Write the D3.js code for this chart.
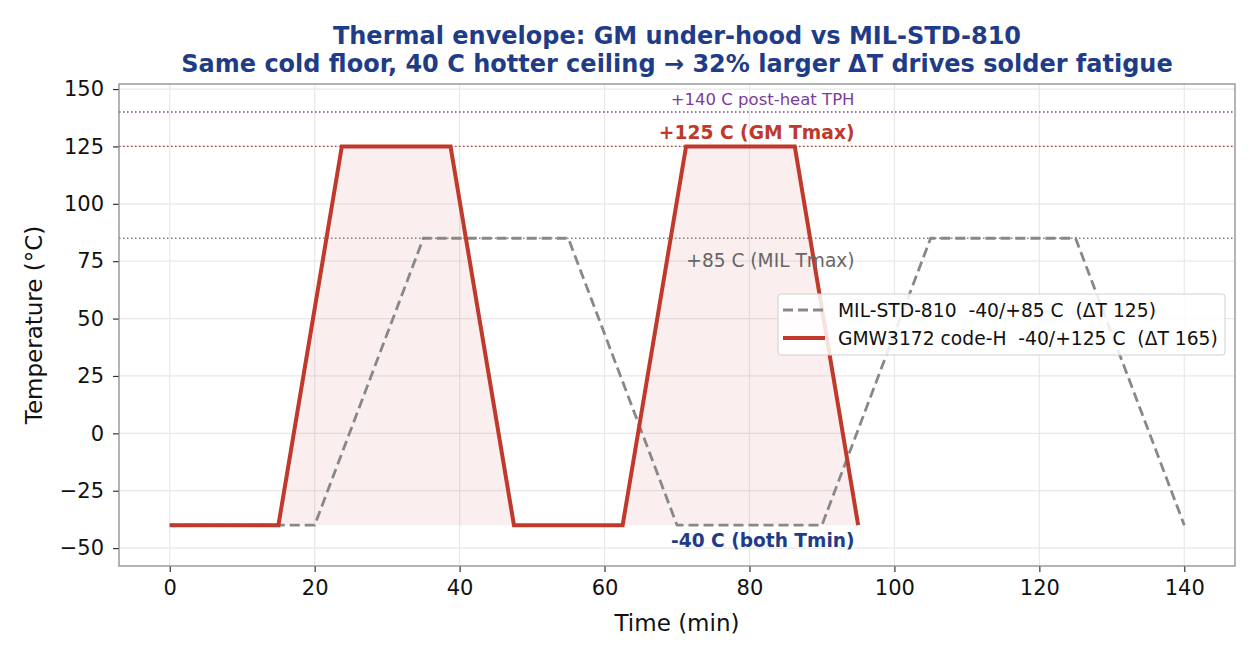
<!DOCTYPE html>
<html>
<head>
<meta charset="utf-8">
<script src="https://cdn.jsdelivr.net/npm/d3@7"></script>
<style>
  body { margin: 0; background: #fff; }
  text { font-family: "DejaVu Sans", sans-serif; white-space: pre; }
</style>
</head>
<body>
<div id="chart"></div>
<script>
// MIL-STD-810 profile (time in min, temperature in C)
var milTime = [0, 20, 35, 55, 70, 90, 105, 125, 140];
var milTemp = [-40, -40, 85, 85, -40, -40, 85, 85, -40];
// GMW3172 code-H profile
var gmTime = [0, 15, 23.75, 38.75, 47.5, 62.5, 71.25, 86.25, 95];
var gmTemp = [-40, -40, 125, 125, -40, -40, 125, 125, -40];

var xTicks = [0, 20, 40, 60, 80, 100, 120, 140];
var yTicks = [-50, -25, 0, 25, 50, 75, 100, 125, 150];

var refLines = [
    { y: 140, color: "#7d3c98", label: "+140 C post-heat TPH" },
    { y: 125, color: "#c0392b", label: "+125 C (GM Tmax)" },
    { y: 85, color: "#808080", label: "+85 C (MIL Tmax)" }
];

var legendLabels = ["MIL-STD-810  -40/+85 C  (\u0394T 125)", "GMW3172 code-H  -40/+125 C  (\u0394T 165)"];

var W = 1260, H = 660;
var margin = { top: 84, right: 25, bottom: 94, left: 119 };
var w = W - margin.left - margin.right,
    h = H - margin.top - margin.bottom;

var svg = d3.select("#chart").append("svg").attr("width", W).attr("height", H);

var x = d3.scaleLinear().domain([-7, 147]).range([margin.left, margin.left + w]);
var y = d3.scaleLinear().domain([-57.8, 152.2]).range([margin.top + h, margin.top]);

// grid
svg.append("g").selectAll("line").data(xTicks).enter().append("line")
    .attr("x1", d => x(d)).attr("x2", d => x(d))
    .attr("y1", margin.top).attr("y2", margin.top + h)
    .style("stroke", "#e8e8e8").style("stroke-width", 1.2);
svg.append("g").selectAll("line").data(yTicks).enter().append("line")
    .attr("x1", margin.left).attr("x2", margin.left + w)
    .attr("y1", d => y(d)).attr("y2", d => y(d))
    .style("stroke", "#e8e8e8").style("stroke-width", 1.2);

var milData = milTime.map((t, i) => [t, milTemp[i]]);
var gmData = gmTime.map((t, i) => [t, gmTemp[i]]);

// fill under GM curve
var area = d3.area().x(d => x(d[0])).y0(y(-40)).y1(d => y(d[1]));
svg.append("path").datum(gmData).attr("d", area)
    .style("fill", "#c0392b").style("fill-opacity", 0.08);

// reference lines
refLines.forEach(function(r) {
    svg.append("line")
        .attr("x1", margin.left).attr("x2", margin.left + w)
        .attr("y1", y(r.y)).attr("y2", y(r.y))
        .style("stroke", r.color).style("stroke-width", 1.3)
        .style("stroke-dasharray", "1.5,2.5");
});

var line = d3.line().x(d => x(d[0])).y(d => y(d[1]));

svg.append("path").datum(milData).attr("d", line)
    .style("fill", "none").style("stroke", "#888888").style("stroke-width", 2.8)
    .style("stroke-dasharray", "10,5");

svg.append("path").datum(gmData).attr("d", line)
    .style("fill", "none").style("stroke", "#c0392b").style("stroke-width", 4)
    .style("stroke-linejoin", "miter");

// annotations, right-aligned near t = 94.5
var annX = x(94.5);
svg.append("text").attr("x", annX).attr("y", y(140) - 7).attr("text-anchor", "end")
    .style("font-size", "16.5px").style("fill", "#7d3c98").text(refLines[0].label);
svg.append("text").attr("x", annX).attr("y", y(125) - 7).attr("text-anchor", "end")
    .style("font-size", "18.7px").style("font-weight", "bold").style("fill", "#c0392b").text(refLines[1].label);
svg.append("text").attr("x", annX).attr("y", y(85) + 29).attr("text-anchor", "end")
    .style("font-size", "18.6px").style("fill", "#666").text(refLines[2].label);
svg.append("text").attr("x", annX).attr("y", y(-40) + 22).attr("text-anchor", "end")
    .style("font-size", "18.6px").style("font-weight", "bold").style("fill", "#1f3c88").text("-40 C (both Tmin)");

// axes
var xAxis = d3.axisBottom(x).tickValues(xTicks).tickSize(6).tickPadding(8);
var yAxis = d3.axisLeft(y).tickValues(yTicks).tickSize(6).tickPadding(9)
    .tickFormat(d => d < 0 ? "\u2212" + Math.abs(d) : d);

var gx = svg.append("g").attr("transform", "translate(0," + (margin.top + h) + ")").call(xAxis);
var gy = svg.append("g").attr("transform", "translate(" + margin.left + ",0)").call(yAxis);
[gx, gy].forEach(function(g) {
    g.select(".domain").remove();
    g.selectAll(".tick line").style("stroke", "#333").style("stroke-width", 1.2);
    g.selectAll(".tick text").style("font-size", "21px").style("fill", "#111")
        .style("font-family", "DejaVu Sans");
});

// frame
svg.append("rect").attr("x", margin.left).attr("y", margin.top).attr("width", w).attr("height", h)
    .style("fill", "none").style("stroke", "#8c8c8c").style("stroke-width", 1.3);

// axis labels
svg.append("text").attr("x", margin.left + w / 2).attr("y", 631).attr("text-anchor", "middle")
    .style("font-size", "23px").style("fill", "#111").text("Time (min)");
svg.append("text").attr("transform", "translate(42," + (margin.top + h / 2) + ") rotate(-90)")
    .attr("text-anchor", "middle").style("font-size", "23px").style("fill", "#111").text("Temperature (\u00b0C)");

// title
svg.append("text").attr("x", margin.left + w / 2).attr("y", 44).attr("text-anchor", "middle")
    .style("font-size", "24px").style("font-weight", "bold").style("fill", "#1f3c88")
    .text("Thermal envelope: GM under-hood vs MIL-STD-810");
svg.append("text").attr("x", margin.left + w / 2).attr("y", 72).attr("text-anchor", "middle")
    .style("font-size", "24px").style("font-weight", "bold").style("fill", "#1f3c88")
    .text("Same cold floor, 40 C hotter ceiling \u2192 32% larger \u0394T drives solder fatigue");

// legend
var lg = svg.append("g").attr("transform", "translate(778,294)");
lg.append("rect").attr("width", 447).attr("height", 61).attr("rx", 3)
    .style("fill", "#fff").style("fill-opacity", 0.85).style("stroke", "#d0d0d0");
var legendStyles = [
    { color: "#888888", width: 2.8, dash: "10,5" },
    { color: "#c0392b", width: 4, dash: null }
];
legendLabels.forEach(function(lab, i) {
    var yy = 16 + i * 28;
    lg.append("line").attr("x1", 5).attr("x2", 47).attr("y1", yy).attr("y2", yy)
        .style("stroke", legendStyles[i].color).style("stroke-width", legendStyles[i].width)
        .style("stroke-dasharray", legendStyles[i].dash);
    lg.append("text").attr("x", 60).attr("y", yy + 6.5).style("font-size", "18.7px").style("fill", "#111").text(lab);
});
</script>
</body>
</html>
